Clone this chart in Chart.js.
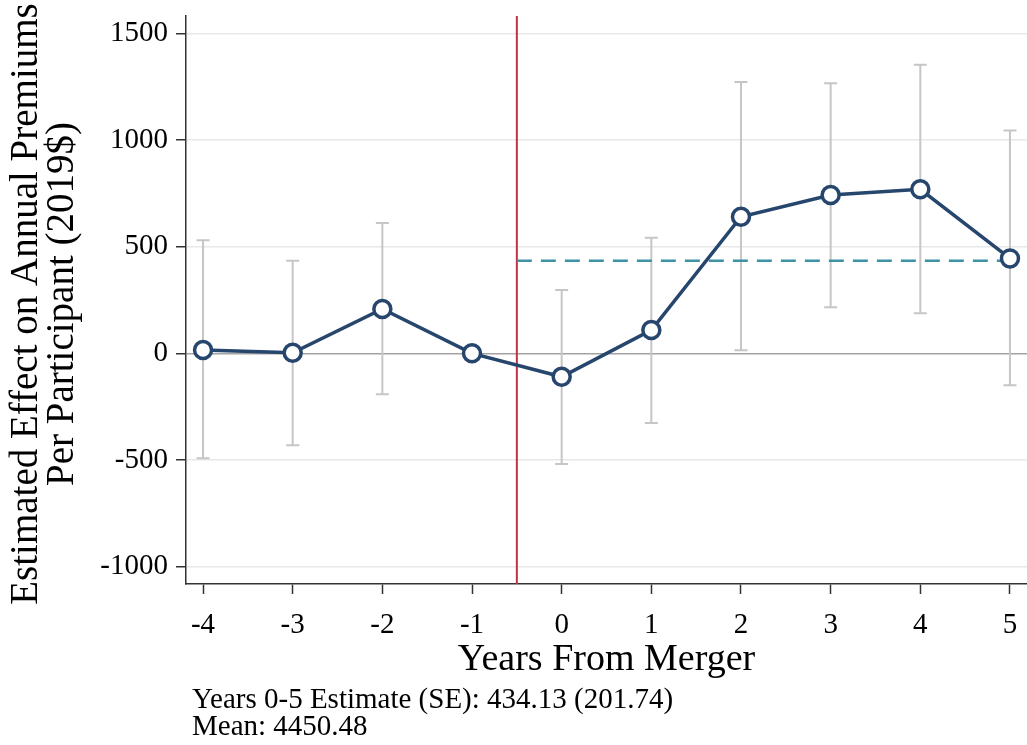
<!DOCTYPE html>
<html>
<head>
<meta charset="utf-8">
<script src="https://cdn.jsdelivr.net/npm/chart.js@4.4.1/dist/chart.umd.min.js"></script>
<style>
    body { margin: 0; background: #fff; }
    #contenedor { width: 1027px; height: 745px; position: relative; }
</style>
</head>
<body>
<div id="contenedor"><canvas id="graficoEfecto"></canvas></div>
<script>
// datos
var anios = [-4, -3, -2, -1, 0, 1, 2, 3, 4, 5];
var estimados = [16, 3, 208, 0, -110, 109, 640, 742, 769, 445];
var ciBajo = [-492, -431, -192, null, -519, -327, 15, 216, 188, -150];
var ciAlto = [530, 434, 611, null, 297, 542, 1272, 1266, 1352, 1044];
var ticksY = [-1000, -500, 0, 500, 1000, 1500];
var estimadoPost = 434.13;
var errorPost = 201.74;
var mediaPrima = 4450.48;
var anioCorte = -0.5;
var yMin = -1081, yMax = 1581;
var xMin = -4.19, xMax = 5.19;

var tituloY = ['Estimated Effect on Annual Premiums', 'Per Participant (2019$)'];
var tituloX = 'Years From Merger';
var notas = [
    'Years 0-5 Estimate (SE): ' + estimadoPost.toFixed(2) + ' (' + errorPost.toFixed(2) + ')',
    'Mean: ' + mediaPrima.toFixed(2)
];

var fuente = "'Liberation Serif', 'Times New Roman', serif";

var barrasError = {
    id: 'barrasError',
    beforeDatasetsDraw: function(chart) {
        var ctx = chart.ctx;
        var sx = chart.scales.x, sy = chart.scales.y;
        ctx.save();
        ctx.strokeStyle = '#c6c6c6';
        ctx.lineWidth = 2;
        anios.forEach(function(a, i) {
            if (ciBajo[i] === null) return;
            var px = sx.getPixelForValue(a);
            var y1 = sy.getPixelForValue(ciBajo[i]);
            var y2 = sy.getPixelForValue(ciAlto[i]);
            ctx.beginPath();
            ctx.moveTo(px, y1); ctx.lineTo(px, y2);
            ctx.moveTo(px - 6.5, y1); ctx.lineTo(px + 6.5, y1);
            ctx.moveTo(px - 6.5, y2); ctx.lineTo(px + 6.5, y2);
            ctx.stroke();
        });
        ctx.restore();
    }
};

var textos = {
    id: 'textos',
    afterDraw: function(chart) {
        var ctx = chart.ctx;
        var area = chart.chartArea;
        ctx.save();
        ctx.fillStyle = '#000';
        // titulo eje y, dos lineas rotadas
        ctx.font = '39px ' + fuente;
        ctx.textAlign = 'center';
        ctx.textBaseline = 'alphabetic';
        ctx.translate(0, (area.top + area.bottom) / 2 + 4);
        ctx.rotate(-Math.PI / 2);
        ctx.fillText(tituloY[0], 0, 37);
        ctx.fillText(tituloY[1], 0, 73);
        ctx.restore();

        ctx.save();
        ctx.fillStyle = '#000';
        ctx.font = '29px ' + fuente;
        ctx.textAlign = 'left';
        ctx.textBaseline = 'alphabetic';
        ctx.fillText(notas[0], area.left + 6, 708);
        ctx.fillText(notas[1], area.left + 6, 735);
        ctx.restore();
    }
};

var ctx = document.getElementById('graficoEfecto').getContext('2d');
new Chart(ctx, {
    type: 'line',
    data: {
        datasets: [
            {
                label: 'Estimado',
                data: anios.map((a, i) => ({ x: a, y: estimados[i] })),
                borderColor: '#27466e',
                borderWidth: 3.5,
                pointRadius: 8.5,
                pointBorderWidth: 3.5,
                pointBackgroundColor: '#fff',
                pointBorderColor: '#27466e',
                fill: false,
                tension: 0
            },
            {
                label: 'Promedio 0-5',
                data: [{ x: anioCorte, y: estimadoPost }, { x: anios[anios.length - 1], y: estimadoPost }],
                borderColor: '#3f92a3',
                borderWidth: 2.5,
                borderDash: [15, 9],
                pointRadius: 0,
                fill: false
            },
            {
                label: 'Fusion',
                data: [{ x: anioCorte, y: yMin }, { x: anioCorte, y: yMax }],
                borderColor: '#c2304a',
                borderWidth: 2,
                pointRadius: 0,
                fill: false
            }
        ]
    },
    options: {
        responsive: true,
        maintainAspectRatio: false,
        animation: false,
        layout: { autoPadding: false, padding: { top: 16, right: 0, bottom: 66, left: 0 } },
        plugins: {
            legend: { display: false },
            tooltip: { enabled: false }
        },
        scales: {
            x: {
                type: 'linear',
                min: xMin,
                max: xMax,
                afterBuildTicks: function(scale) {
                    scale.ticks = anios.map(v => ({ value: v }));
                },
                afterFit: function(scale) {
                    scale.height = 95;
                    scale.paddingLeft = 0;
                    scale.paddingRight = 0;
                },
                grid: {
                    drawOnChartArea: false,
                    drawTicks: true,
                    tickLength: 10,
                    tickColor: '#333',
                    tickWidth: 1.5
                },
                border: { color: '#333', width: 1.5 },
                ticks: {
                    color: '#000',
                    padding: 17,
                    maxRotation: 0,
                    callback: v => String(v),
                    font: { family: fuente, size: 29, lineHeight: 1 }
                },
                title: {
                    display: true,
                    text: tituloX,
                    color: '#000',
                    padding: 0,
                    font: { family: fuente, size: 38, lineHeight: 1 }
                }
            },
            y: {
                min: yMin,
                max: yMax,
                afterBuildTicks: function(scale) {
                    scale.ticks = ticksY.map(v => ({ value: v }));
                },
                afterFit: function(scale) {
                    scale.width = 186;
                    scale.paddingTop = 0;
                    scale.paddingBottom = 0;
                },
                grid: {
                    color: c => (c.tick && c.tick.value === 0) ? '#a3a3a3' : '#e8e8e8',
                    lineWidth: 1.5,
                    tickLength: 10,
                    tickColor: '#333',
                    tickWidth: 1.5
                },
                border: { color: '#333', width: 1.5 },
                ticks: {
                    color: '#000',
                    padding: 8,
                    callback: v => String(v),
                    font: { family: fuente, size: 29, lineHeight: 1 }
                }
            }
        }
    },
    plugins: [barrasError, textos]
});
</script>
</body>
</html>
